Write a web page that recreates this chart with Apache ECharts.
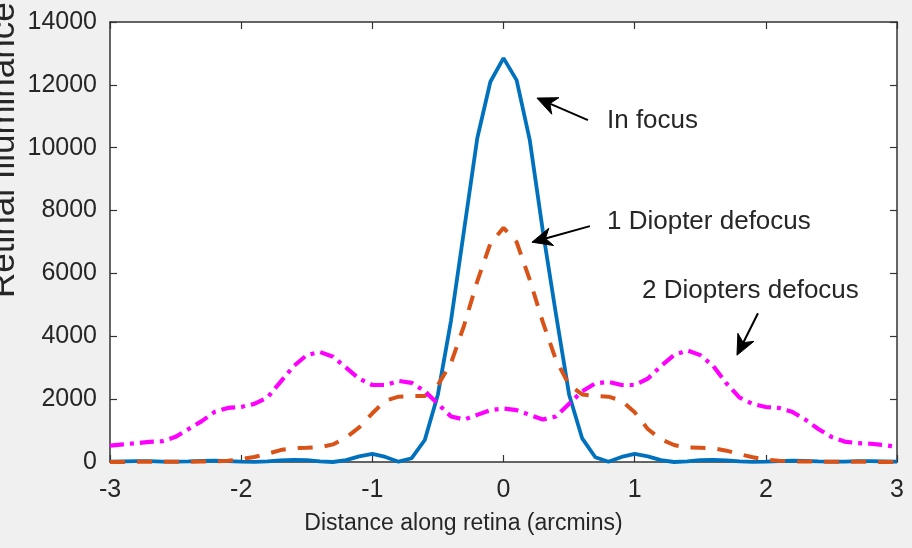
<!DOCTYPE html>
<html>
<head>
<meta charset="utf-8">
<script src="https://cdn.jsdelivr.net/npm/echarts@6/dist/echarts.min.js"></script>
<style>
  html, body { margin: 0; padding: 0; background: #f0f0f0; }
  #chart { width: 912px; height: 548px; }
</style>
</head>
<body>
<div id="chart"></div>
<script>
// Distance along the retina (arcmin), sampled every 0.1
const distance = [
  -3.0, -2.9, -2.8, -2.7, -2.6, -2.5, -2.4, -2.3, -2.2, -2.1,
  -2.0, -1.9, -1.8, -1.7, -1.6, -1.5, -1.4, -1.3, -1.2, -1.1,
  -1.0, -0.9, -0.8, -0.7, -0.6, -0.5, -0.4, -0.3, -0.2, -0.1,
   0.0,
   0.1,  0.2,  0.3,  0.4,  0.5,  0.6,  0.7,  0.8,  0.9,  1.0,
   1.1,  1.2,  1.3,  1.4,  1.5,  1.6,  1.7,  1.8,  1.9,  2.0,
   2.1,  2.2,  2.3,  2.4,  2.5,  2.6,  2.7,  2.8,  2.9,  3.0
];

// Retinal illuminance, eye in focus
const inFocus = [
    10,   20,   30,   25,   15,   10,   20,   35,   40,   30,
    10,    5,   20,   50,   70,   60,   20,    0,   60,  180,
   260,  160,   10,  120,  700, 2150, 4500, 7400, 10300, 12100,
 12850,
 12150, 10250, 7350, 4700, 2150,  750,  150,   10,  160,  260,
   180,   60,    0,   20,   60,   70,   50,   20,    5,   10,
    30,   40,   35,   20,   10,   15,   25,   30,   20,   10
];

// Retinal illuminance, 1 diopter of defocus
const oneDiopter = [
     0,    0,    5,    5,    5,    5,   10,   15,   20,   40,
    90,  160,  260,  380,  440,  450,  470,  560,  780, 1100,
  1550, 1950, 2080, 2100, 2100, 2450, 3150, 4350, 5750, 6950,
  7450,
  7000, 5800, 4450, 3250, 2450, 2150, 2100, 2080, 1950, 1580,
  1050,  720,  540,  460,  450,  440,  360,  250,  150,   80,
    40,   20,   15,   10,    5,    5,    5,    5,    0,    0
];

// Retinal illuminance, 2 diopters of defocus
const twoDiopters = [
   520,  560,  600,  640,  660,  800, 1050, 1300, 1600, 1720,
  1750, 1850, 2050, 2550, 3050, 3400, 3500, 3350, 3000, 2650,
  2450, 2450, 2580, 2520, 2250, 1850, 1450, 1350, 1500, 1650,
  1700,
  1650, 1500, 1350, 1450, 1850, 2250, 2500, 2550, 2450, 2450,
  2650, 3050, 3400, 3550, 3400, 3050, 2500, 2050, 1850, 1750,
  1720, 1600, 1350, 1050,  800,  650,  600,  580,  540,  480
];

const xTicks = [-3, -2, -1, 0, 1, 2, 3];
const yTicks = [0, 2000, 4000, 6000, 8000, 10000, 12000, 14000];

const seriesNames = ['In focus', '1 Diopter defocus', '2 Diopters defocus'];
const xTitle = 'Distance along retina (arcmins)';
const yTitle = 'Retinal Illuminance';

// Callouts: label anchor and arrow (tail -> tip), in data units
const callouts = [
  { text: 'In focus',           at: [0.789, 10850], tail: [0.644, 10880], tip: [0.255, 11580] },
  { text: '1 Diopter defocus',  at: [0.789, 7630],  tail: [0.659, 7505],  tip: [0.217, 6995] },
  { text: '2 Diopters defocus', at: [1.056, 5435],  tail: [1.940, 4735],  tip: [1.780, 3398] }
];

const FONT = '"Liberation Sans", Arial, Helvetica, sans-serif';
const INK = '#262626';
const AXIS = '#333333';

const chart = echarts.init(document.getElementById('chart'), null, { renderer: 'canvas' });

const pairs = ys => distance.map((x, i) => [x, ys[i]]);
const xMin = xTicks[0], xMax = xTicks[xTicks.length - 1], xStep = xTicks[1] - xTicks[0];
const yMin = yTicks[0], yMax = yTicks[yTicks.length - 1], yStep = yTicks[1] - yTicks[0];
const plain = v => String(v);

function xAxisDef(position, labels) {
  return {
    type: 'value', position: position, min: xMin, max: xMax, interval: xStep,
    axisLine: { show: true, onZero: false, lineStyle: { color: AXIS, width: 1.5 } },
    axisTick: { show: true, inside: true, length: 7, lineStyle: { color: AXIS, width: 1.2 } },
    axisLabel: { show: labels, color: INK, fontSize: 25, fontFamily: FONT, margin: 16,
                 formatter: plain, showMinLabel: true, showMaxLabel: true },
    splitLine: { show: false }
  };
}
function yAxisDef(position, labels) {
  return {
    type: 'value', position: position, min: yMin, max: yMax, interval: yStep,
    axisLine: { show: true, onZero: false, lineStyle: { color: AXIS, width: 1.5 } },
    axisTick: { show: true, inside: true, length: 7, lineStyle: { color: AXIS, width: 1.2 } },
    axisLabel: { show: labels, color: INK, fontSize: 25, fontFamily: FONT, margin: 13,
                 formatter: plain, showMinLabel: true, showMaxLabel: true },
    splitLine: { show: false }
  };
}

chart.setOption({
  animation: false,
  backgroundColor: '#f0f0f0',
  grid: { left: 110, right: 15, top: 22, bottom: 86, show: true,
          backgroundColor: '#ffffff', borderWidth: 0 },
  xAxis: [xAxisDef('bottom', true), xAxisDef('top', false)],
  yAxis: [yAxisDef('left', true), yAxisDef('right', false)],
  series: [
    { name: seriesNames[0], type: 'line', data: pairs(inFocus), showSymbol: false, clip: false,
      lineStyle: { color: '#0072BD', width: 3.8 }, z: 3 },
    { name: seriesNames[1], type: 'line', data: pairs(oneDiopter), showSymbol: false, clip: false,
      lineStyle: { color: '#D95319', width: 4, type: [15, 12], cap: 'butt' }, z: 4 },
    { name: seriesNames[2], type: 'line', data: pairs(twoDiopters), showSymbol: false, clip: false,
      lineStyle: { color: '#FF00FF', width: 4.2, type: [14, 6, 4, 6], cap: 'butt' }, z: 5 }
  ]
});

// Callout arrows, callout texts and axis titles
function arrowElements(tail, tip) {
  const a = chart.convertToPixel({ gridIndex: 0 }, tail);
  const b = chart.convertToPixel({ gridIndex: 0 }, tip);
  const dx = b[0] - a[0], dy = b[1] - a[1];
  const len = Math.hypot(dx, dy);
  const ux = dx / len, uy = dy / len;
  const px = -uy, py = ux;
  const headLen = 20, half = 9;
  const bx = b[0] - ux * headLen, by = b[1] - uy * headLen;
  const nx = b[0] - ux * headLen * 0.7, ny = b[1] - uy * headLen * 0.7;
  return [
    { type: 'line', silent: true, z: 10,
      shape: { x1: a[0], y1: a[1], x2: nx, y2: ny },
      style: { stroke: '#000000', lineWidth: 2 } },
    { type: 'polygon', silent: true, z: 10,
      shape: { points: [[b[0], b[1]], [bx + px * half, by + py * half], [nx, ny], [bx - px * half, by - py * half]] },
      style: { fill: '#000000', stroke: '#000000', lineWidth: 1 } }
  ];
}

const gfx = [];
callouts.forEach(c => {
  const p = chart.convertToPixel({ gridIndex: 0 }, c.at);
  gfx.push({ type: 'text', silent: true, z: 10, x: p[0], y: p[1],
    style: { text: c.text, fill: INK, font: '26px ' + FONT,
             align: 'left', textAlign: 'left', verticalAlign: 'middle', textVerticalAlign: 'middle' } });
  arrowElements(c.tail, c.tip).forEach(e => gfx.push(e));
});

gfx.push({ type: 'text', silent: true, z: 10, x: 463.5, y: 524,
  style: { text: xTitle, fill: INK, font: '23px ' + FONT,
           align: 'center', textAlign: 'center', verticalAlign: 'middle', textVerticalAlign: 'middle' } });

gfx.push({ type: 'text', silent: true, z: 10, x: 22, y: 298, rotation: Math.PI / 2,
  style: { text: yTitle, fill: INK, font: '35px ' + FONT,
           align: 'left', textAlign: 'left', verticalAlign: 'bottom', textVerticalAlign: 'bottom' } });

chart.setOption({ graphic: gfx });
</script>
</body>
</html>
